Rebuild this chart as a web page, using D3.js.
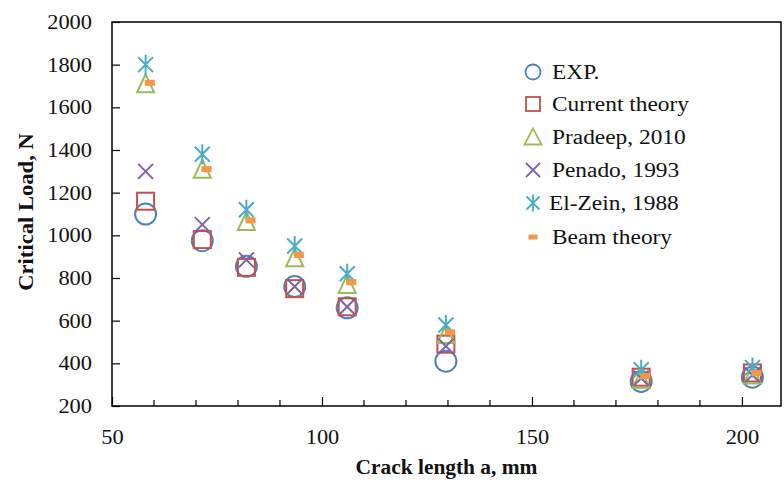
<!DOCTYPE html>
<html>
<head>
<meta charset="utf-8">
<script src="https://cdn.jsdelivr.net/npm/d3@7"></script>
<style>
  html, body { margin: 0; padding: 0; background: #fff; }
  svg { display: block; font-family: "Liberation Serif", "Times New Roman", serif; }
</style>
</head>
<body>
<svg id="chart" width="784" height="480"></svg>
<script>
// Crack lengths (mm) for each specimen
const crackLength = [58, 71.5, 82, 93.5, 106, 129.5, 176, 202.5];
// Beam theory points are plotted at a slightly shifted crack length
const beamCrackLength = [59, 72.5, 83, 94.5, 107, 130.5, 177, 203.5];

// Critical loads (N)
const expLoad      = [1100, 975, 855, 760, 660, 410, 315, 335];
const currentLoad  = [1160, 980, 850, 750, 665, 490, 335, 355];
const pradeepLoad  = [1710, 1310, 1065, 895, 770, 535, 325, 345];
const penadoLoad   = [1300, 1050, 885, 760, 665, 480, 330, 345];
const elZeinLoad   = [1800, 1380, 1120, 950, 820, 580, 370, 380];
const beamLoad     = [1715, 1310, 1070, 908, 780, 545, 340, 355];

const seriesNames = ["EXP.", "Current theory", "Pradeep, 2010", "Penado, 1993", "El-Zein, 1988", "Beam theory"];

const xTicks = [50, 100, 150, 200];
const xMinorTicks = [60, 70, 80, 90, 110, 120, 130, 140, 160, 170, 180, 190];
const yTicks = [200, 400, 600, 800, 1000, 1200, 1400, 1600, 1800, 2000];

const colors = {
  exp: "#4F81BD", current: "#C0504D", pradeep: "#9BBB59",
  penado: "#8064A2", elzein: "#4BACC6", beam: "#F79646"
};

const svg = d3.select("#chart");
const plot = { left: 112, right: 781, top: 22, bottom: 406 };

const x = d3.scaleLinear().domain([50, 209.3]).range([plot.left, plot.right]);
const y = d3.scaleLinear().domain([200, 2000]).range([plot.bottom, plot.top]);

// Widen serif text a little, as the typeface used here runs narrow
function widen(sel, factor) {
  sel.each(function () {
    const w = this.getComputedTextLength();
    d3.select(this).attr("textLength", w * factor).attr("lengthAdjust", "spacingAndGlyphs");
  });
}

// Frame
svg.append("rect")
  .attr("x", plot.left).attr("y", plot.top)
  .attr("width", plot.right - plot.left).attr("height", plot.bottom - plot.top)
  .attr("fill", "none").attr("stroke", "#000").attr("stroke-width", 1.5);

// Y axis: ticks point inward
const yAxis = svg.append("g").attr("transform", `translate(${plot.left},0)`)
  .call(d3.axisLeft(y).tickValues(yTicks).tickSizeInner(-8).tickSizeOuter(0).tickPadding(20).tickFormat(d3.format("d")));
yAxis.select(".domain").remove();
yAxis.selectAll("line").attr("stroke", "#000").attr("stroke-width", 1.2);
yAxis.selectAll("text").attr("font-size", 20).attr("fill", "#111")
  .attr("font-family", "Liberation Serif, serif").call(widen, 1.12);

// X axis: major and minor ticks point inward
const xAxis = svg.append("g").attr("transform", `translate(0,${plot.bottom})`)
  .call(d3.axisBottom(x).tickValues(xTicks).tickSizeInner(-9).tickSizeOuter(0).tickPadding(24).tickFormat(d3.format("d")));
xAxis.select(".domain").remove();
xAxis.selectAll("line").attr("stroke", "#000").attr("stroke-width", 1.2);
xAxis.selectAll("text").attr("font-size", 20).attr("fill", "#111")
  .attr("font-family", "Liberation Serif, serif").call(widen, 1.12);

svg.append("g").selectAll("line").data(xMinorTicks).join("line")
  .attr("x1", d => x(d)).attr("x2", d => x(d))
  .attr("y1", plot.bottom).attr("y2", plot.bottom - 6)
  .attr("stroke", "#000").attr("stroke-width", 1.2);

// Axis titles
svg.append("text")
  .attr("x", (plot.left + plot.right) / 2).attr("y", 474)
  .attr("text-anchor", "middle").attr("font-size", 20).attr("font-weight", "bold")
  .attr("fill", "#111").text("Crack length a, mm").call(widen, 1.07);

svg.append("text")
  .attr("transform", "translate(33,212) rotate(-90)")
  .attr("text-anchor", "middle").attr("font-size", 20).attr("font-weight", "bold")
  .attr("fill", "#111").text("Critical Load, N").call(widen, 1.13);

// Marker drawing helpers
const markers = {
  circle: (g, c) => g.append("circle").attr("r", 10.5).attr("fill", "none").attr("stroke", c).attr("stroke-width", 2),
  square: (g, c) => g.append("rect").attr("x", -8.5).attr("y", -8.5).attr("width", 17).attr("height", 17)
                       .attr("fill", "none").attr("stroke", c).attr("stroke-width", 2),
  triangle: (g, c) => g.append("path").attr("d", "M0,-9.5L8.5,8.5L-8.5,8.5Z")
                       .attr("fill", "none").attr("stroke", c).attr("stroke-width", 2),
  cross: (g, c) => g.append("path").attr("d", "M-7.5,-7.5L7.5,7.5M-7.5,7.5L7.5,-7.5")
                       .attr("fill", "none").attr("stroke", c).attr("stroke-width", 2),
  star: (g, c) => g.append("path").attr("d", "M-7.5,-7.5L7.5,7.5M-7.5,7.5L7.5,-7.5M0,-10L0,10")
                       .attr("fill", "none").attr("stroke", c).attr("stroke-width", 2),
  dash: (g, c) => g.append("rect").attr("x", -5).attr("y", -3).attr("width", 10).attr("height", 6)
                       .attr("fill", c)
};

const series = [
  { name: seriesNames[0], xs: crackLength, ys: expLoad, shape: "circle", color: colors.exp },
  { name: seriesNames[1], xs: crackLength, ys: currentLoad, shape: "square", color: colors.current },
  { name: seriesNames[2], xs: crackLength, ys: pradeepLoad, shape: "triangle", color: colors.pradeep },
  { name: seriesNames[3], xs: crackLength, ys: penadoLoad, shape: "cross", color: colors.penado },
  { name: seriesNames[4], xs: crackLength, ys: elZeinLoad, shape: "star", color: colors.elzein },
  { name: seriesNames[5], xs: beamCrackLength, ys: beamLoad, shape: "dash", color: colors.beam }
];

series.forEach(s => {
  const g = svg.append("g").attr("class", "series");
  s.ys.forEach((v, i) => {
    const m = g.append("g").attr("transform", `translate(${x(s.xs[i])},${y(v)})`);
    markers[s.shape](m, s.color);
  });
});

// Legend
const legendY = [72, 104, 137, 170, 203, 237];
const legend = svg.append("g");
series.forEach((s, i) => {
  const m = legend.append("g").attr("transform", `translate(533,${legendY[i]})`);
  const lg = {
    circle: g => g.append("circle").attr("r", 7.5).attr("fill", "none").attr("stroke", s.color).attr("stroke-width", 1.8),
    square: g => g.append("rect").attr("x", -7).attr("y", -7).attr("width", 14).attr("height", 14)
                   .attr("fill", "none").attr("stroke", s.color).attr("stroke-width", 1.8),
    triangle: g => g.append("path").attr("d", "M0,-8.5L8.5,7.5L-8.5,7.5Z").attr("fill", "none").attr("stroke", s.color).attr("stroke-width", 1.8),
    cross: g => g.append("path").attr("d", "M-7,-7L7,7M-7,7L7,-7").attr("fill", "none").attr("stroke", s.color).attr("stroke-width", 1.8),
    star: g => g.append("path").attr("d", "M-6.5,-6.5L6.5,6.5M-6.5,6.5L6.5,-6.5M0,-8.5L0,8.5").attr("fill", "none").attr("stroke", s.color).attr("stroke-width", 1.8),
    dash: g => g.append("rect").attr("x", -4.5).attr("y", -2.5).attr("width", 9).attr("height", 5).attr("fill", s.color)
  };
  lg[s.shape](m);
  legend.append("text")
    .attr("x", i === 4 ? 549 : 552).attr("y", legendY[i]).attr("dy", "0.35em")
    .attr("font-size", 20.5).attr("fill", "#111").text(s.name).call(widen, 1.14);
});
</script>
</body>
</html>
